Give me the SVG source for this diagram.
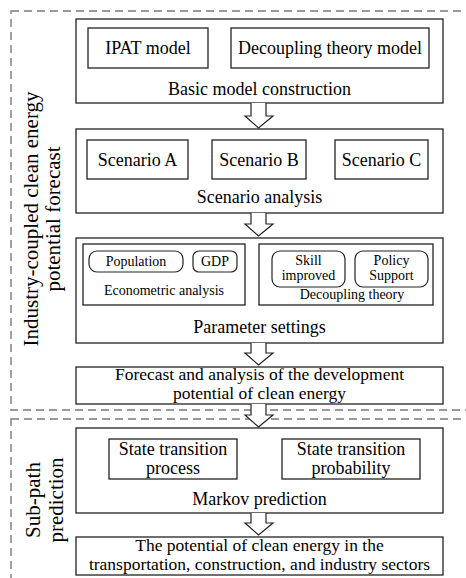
<svg xmlns="http://www.w3.org/2000/svg" width="466" height="578" viewBox="0 0 466 578">
<style>
text{font-family:"Liberation Serif","Times New Roman",serif;fill:#000;text-anchor:middle}
.t18{font-size:18px}
.t17{font-size:17.5px}
.t14{font-size:14px}
.t21{font-size:21px}
.box{fill:#fff;stroke:#222;stroke-width:1.3}
.pill{fill:#fff;stroke:#222;stroke-width:1.2}
.dash{fill:none;stroke:#7a7a7a;stroke-width:1.4;stroke-dasharray:8 5}
.arr{fill:#fff;stroke:#222;stroke-width:1.2;stroke-linejoin:miter}
</style>
<rect width="466" height="578" fill="#fff"/>
<g id="group-forecast">
<rect class="dash" x="11" y="11" width="480" height="399"/>
<text class="t21" transform="translate(38,219) rotate(-90)">Industry-coupled clean energy</text>
<text class="t21" transform="translate(60,219) rotate(-90)">potential forecast</text>
</g>
<g id="group-subpath">
<rect class="dash" x="11" y="419" width="480" height="180"/>
<text class="t21" transform="translate(40,500) rotate(-90)">Sub-path</text>
<text class="t21" transform="translate(63,500) rotate(-90)">prediction</text>
</g>
<g id="basic-model">
<rect class="box" x="76" y="19" width="367" height="84"/>
<rect class="box" x="88" y="28" width="120" height="40"/>
<text class="t18" x="148" y="54">IPAT model</text>
<rect class="box" x="231" y="28" width="198" height="40"/>
<text class="t18" x="330" y="54">Decoupling theory model</text>
<text class="t18" x="259.5" y="95">Basic model construction</text>
</g>
<g id="scenario">
<rect class="box" x="76" y="129" width="367" height="84"/>
<rect class="box" x="87" y="140" width="101" height="39"/>
<text class="t18" x="137.5" y="166">Scenario A</text>
<rect class="box" x="212" y="140" width="94" height="39"/>
<text class="t18" x="259" y="166">Scenario B</text>
<rect class="box" x="335" y="140" width="93" height="39"/>
<text class="t18" x="381.5" y="166">Scenario C</text>
<text class="t18" x="259.5" y="203">Scenario analysis</text>
</g>
<g id="parameter">
<rect class="box" x="76" y="238" width="367" height="105"/>
<rect class="box" x="83" y="244" width="162" height="61"/>
<rect class="pill" x="89" y="251" width="94" height="21" rx="8"/>
<text class="t14" x="136" y="266">Population</text>
<rect class="pill" x="193" y="251" width="44" height="21" rx="6"/>
<text class="t14" x="215" y="266">GDP</text>
<text class="t14" x="164" y="295">Econometric analysis</text>
<rect class="box" x="259" y="244" width="174" height="61"/>
<rect class="pill" x="272" y="251" width="73" height="36" rx="8"/>
<text class="t14" x="308.5" y="265">Skill</text>
<text class="t14" x="308.5" y="280">improved</text>
<rect class="pill" x="355" y="251" width="73" height="36" rx="8"/>
<text class="t14" x="391.5" y="265">Policy</text>
<text class="t14" x="391.5" y="280">Support</text>
<text class="t14" x="352" y="299">Decoupling theory</text>
<text class="t18" x="259.5" y="333">Parameter settings</text>
</g>
<g id="forecast">
<rect class="box" x="76" y="367" width="367" height="37"/>
<text class="t17" x="259.5" y="380">Forecast and analysis of the development</text>
<text class="t17" x="259.5" y="399">potential of clean energy</text>
</g>
<g id="markov">
<rect class="box" x="76" y="428" width="367" height="85"/>
<rect class="box" x="109" y="439" width="128" height="40"/>
<text class="t18" x="173" y="455">State transition</text>
<text class="t18" x="173" y="474">process</text>
<rect class="box" x="282" y="439" width="138" height="40"/>
<text class="t18" x="351" y="455">State transition</text>
<text class="t18" x="351" y="474">probability</text>
<text class="t18" x="259.5" y="505">Markov prediction</text>
</g>
<g id="sectors">
<rect class="box" x="76" y="537" width="367" height="38"/>
<text class="t17" x="259.5" y="551">The potential of clean energy in the</text>
<text class="t17" x="259.5" y="570">transportation, construction, and industry sectors</text>
</g>
<g id="connectors">
<path class="arr" d="M251,103 V116 H245 L258.5,128 L273,116 H266 V103"/>
<path class="arr" d="M251,213 V224 H245 L258.5,236 L273,224 H266 V213"/>
<path class="arr" d="M251,343 V353 H245 L258.5,365 L273,353 H266 V343"/>
<path class="arr" d="M251,404 V415 H245 L258.5,427 L273,415 H266 V404"/>
<path class="arr" d="M251,513 V523 H245 L258.5,535 L273,523 H266 V513"/>
</g>
</svg>
